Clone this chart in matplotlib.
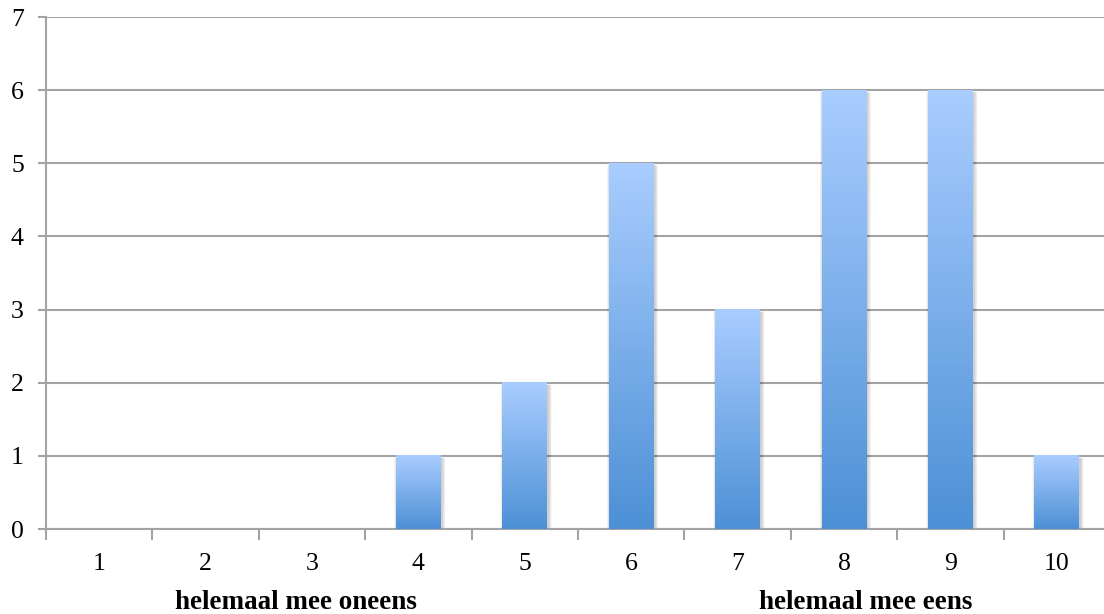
import numpy as np
import matplotlib.pyplot as plt
from matplotlib.colors import LinearSegmentedColormap
from matplotlib.patches import Rectangle

plt.rcParams['font.family'] = ['Liberation Serif', 'DejaVu Serif']

scores = [1, 2, 3, 4, 5, 6, 7, 8, 9, 10]
counts = [0, 0, 0, 1, 2, 5, 3, 6, 6, 1]
tick_labels = [str(s) for s in scores]
end_labels = ["helemaal mee oneens", "helemaal mee eens"]

grid_col = "#a3a3a3"
bar_cmap = LinearSegmentedColormap.from_list("bar", ["#4d90d6", "#a9cdff"])
bar_w = 0.42

fig = plt.figure(figsize=(11.04, 6.14), dpi=100)
# the plot area runs a little past the right edge of the figure
ax = fig.add_axes([46 / 1104, 85 / 614, 1064 / 1104, 512 / 614])

grad = np.linspace(0, 1, 256).reshape(-1, 1)
for x, c in zip(scores, counts):
    if c == 0:
        continue
    # soft drop shadow, slightly to the right and below the bar
    for k in range(8):
        grow = 0.004 * (k + 1)
        ax.add_patch(Rectangle((x - bar_w / 2 - grow + 0.012, -0.02 - 1.6 * grow),
                               bar_w + 2 * grow, c + 1.2 * grow,
                               facecolor="black", alpha=0.022, lw=0, zorder=2))
    ax.imshow(grad, cmap=bar_cmap, origin="lower", aspect="auto",
              extent=(x - bar_w / 2, x + bar_w / 2, 0, c), zorder=3)

ax.set_xlim(0.5, 10.5)
ax.set_ylim(0, 7)

ax.set_yticks(range(0, 8))
ax.yaxis.grid(True, color=grid_col, lw=1.5)
ax.set_axisbelow(True)
ax.tick_params(axis="y", length=6, color=grid_col, width=1.5, labelsize=18.5, pad=10)

ax.set_xticks(np.arange(0.5, 10.6, 1))
ax.set_xticklabels([])
ax.set_xticks(scores, minor=True)
ax.set_xticklabels(tick_labels, minor=True, fontsize=18.5)
ax.tick_params(axis="x", which="major", length=8, color=grid_col, width=1.5, direction="out")
ax.tick_params(axis="x", which="minor", length=0, pad=17)

for s in ["top", "right"]:
    ax.spines[s].set_visible(False)
ax.spines["left"].set_color(grid_col)
ax.spines["left"].set_linewidth(1.5)
ax.spines["bottom"].set_color(grid_col)
ax.spines["bottom"].set_linewidth(1.5)

ax.text(2.85, -1.0, end_labels[0], ha="center", va="center",
        fontsize=19.5, fontweight="bold", clip_on=False)
ax.text(8.2, -1.0, end_labels[1], ha="center", va="center",
        fontsize=19.5, fontweight="bold", clip_on=False)

fig.savefig("out.png", dpi=100)
